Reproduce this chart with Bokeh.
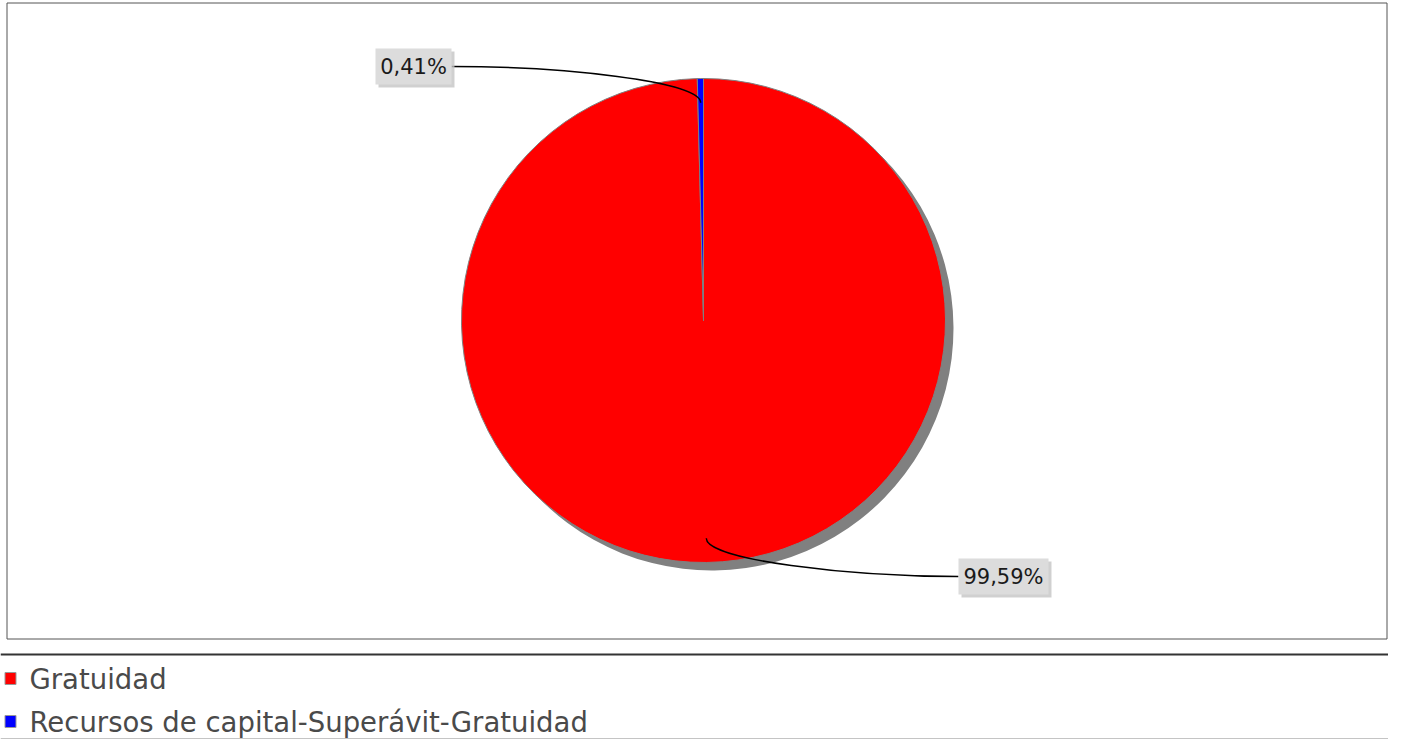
import math
from bokeh.plotting import figure
from bokeh.models import Range1d
from bokeh.core.properties import value
from bokeh.embed import file_html
from bokeh.resources import INLINE

# ---- data ----
categories = ["Gratuidad", "Recursos de capital-Superávit-Gratuidad"]
values = [99.59, 0.41]
colors = ["#FF0000", "#0000FF"]

# ---- layout (pixel coordinates, top-left origin) ----
W, H = 1388, 739
def Y(sy):
    return H - sy

p = figure(width=W, height=H, x_range=Range1d(0, W), y_range=Range1d(0, H),
           output_backend="svg", toolbar_location=None, x_axis_type=None, y_axis_type=None,
           min_border=0)
p.grid.visible = False
p.outline_line_color = None
p.background_fill_color = "white"

# chart frame
p.quad(left=[6.5], right=[1386.5], top=[Y(2.5)], bottom=[Y(638.5)], fill_color=None,
       line_color="#555555", line_width=1)
# legend separators
p.segment(x0=[0], y0=[Y(654)], x1=[W], y1=[Y(654)], line_color="#333333", line_width=2)
p.segment(x0=[0], y0=[Y(738.5)], x1=[W], y1=[Y(738.5)], line_color="#888888", line_width=1)

cx, cy, r = 703, Y(320), 242
total = sum(values)
fracs = [v / total for v in values]

# wedges: clockwise from 12 o'clock
starts, ends, mids = [], [], []
cum = 0.0
for f in fracs:
    a0 = 90 - cum * 360
    cum += f
    a1 = 90 - cum * 360
    starts.append(math.radians(a1))
    ends.append(math.radians(a0))
    mids.append(math.radians((a0 + a1) / 2))

# shadow
p.wedge(x=[cx + 8] * len(values), y=[cy - 8] * len(values), radius=r,
        start_angle=starts, end_angle=ends, direction="anticlock",
        fill_color="#808080", line_color=None)
p.wedge(x=[cx] * len(values), y=[cy] * len(values), radius=r,
        start_angle=starts, end_angle=ends, direction="anticlock",
        fill_color=colors, line_color="#808080", line_width=1)

# labels
labels = [("%.2f" % (v / total * 100)).replace(".", ",") + "%" for v in values]
label_pos = [(958, 576, 90, "right"), (451, 66, 76, "left")]  # edge x, screen y, box width, side
for lab, m, (ex, ly, bw, side) in zip(labels, mids, label_pos):
    ax = cx + 0.9 * r * math.cos(m)
    ay = cy + 0.9 * r * math.sin(m)
    c0x = cx + 0.99 * r * math.cos(m)
    c0y = cy + 0.99 * r * math.sin(m)
    c1x = ex - 110 if side == "right" else ex + 110
    p.bezier(x0=[ax], y0=[ay], x1=[ex], y1=[Y(ly)], cx0=[c0x], cy0=[c0y],
             cx1=[c1x], cy1=[Y(ly)], line_color="black", line_width=1.5)
    bx = ex + bw / 2 if side == "right" else ex - bw / 2
    p.rect(x=[bx + 3], y=[Y(ly) - 3], width=bw, height=36, fill_color="#c4c4c4",
           fill_alpha=0.8, line_color=None)
    p.rect(x=[bx], y=[Y(ly)], width=bw, height=36, fill_color="#dcdcdc", line_color=None)
    p.text(x=[bx], y=[Y(ly)], text=[lab], text_align="center", text_baseline="middle",
           text_font=value("DejaVu Sans"), text_font_size="21px", text_color="#1a1a1a")

# legend
leg_y = [678, 721]
for cat, col, ly in zip(categories, colors, leg_y):
    p.rect(x=[10], y=[Y(ly)], width=11, height=12, fill_color=col, line_color="#999999",
           line_width=1)
    p.text(x=[29], y=[Y(ly)], text=[cat], text_align="left", text_baseline="middle",
           text_font=value("DejaVu Sans"), text_font_size="27.5px", text_color="#4a4a4a")

open("out.html", "w").write(file_html(p, INLINE))
